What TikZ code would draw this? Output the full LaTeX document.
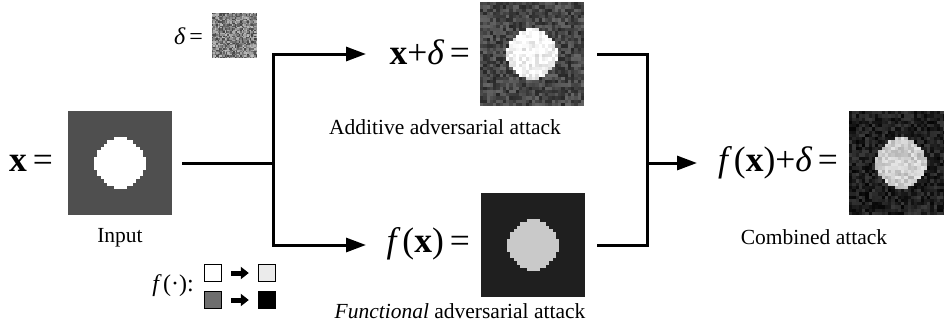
\documentclass[tikz,border=0pt]{standalone}
\usepackage{fontspec}
\setmainfont{Liberation Serif}
\usetikzlibrary{arrows.meta}
\tikzset{
  conn/.style={line width=3pt},
  arr/.style={conn,-{Triangle[length=20pt,width=14pt]}},
  lbl/.style={font=\fontsize{21.5}{24}\selectfont, inner sep=0pt},
  eq/.style={font=\fontsize{35.5}{40}\selectfont, inner sep=0pt},
  smalleq/.style={font=\fontsize{24}{28}\selectfont, inner sep=0pt},
  imgframe/.style={draw=none, minimum size=#1, inner sep=0pt},
  legbox/.style={draw, line width=1.4pt, minimum size=17pt, inner sep=0pt},
  legarr/.style={line width=5pt,-{Triangle[length=8pt,width=12pt]}},
}
% #1 left, #2 top, #3 size, #4 background gray, #5 disc gray, #6 noise amplitude, #7 disc radius^2 (in pixels)
\newcommand\pixelimg[7]{%
  \pgfmathsetmacro\pxs{#3/32}%
  \foreach \i in {0,...,31}{%
    \foreach \j in {0,...,31}{%
      \pgfmathsetmacro\dd{(\i-15.5)^2+(\j-15.5)^2}%
      \pgfmathsetmacro\gv{(\dd<#7 ? #5 : #4) + #6*(rnd-0.5)}%
      \pgfmathtruncatemacro\bk{100*(1-max(0,min(1,\gv)))}%
      \fill[black!\bk] ({#1+\i*\pxs},{#2+\j*\pxs}) rectangle ++({\pxs+0.3},{\pxs+0.3});
    }}}
\begin{document}
\begin{tikzpicture}[x=1pt,y=-1pt]
\useasboundingbox (0,0) rectangle (944,332);
\clip (0,0) rectangle (944,332);
\pgfmathsetseed{1234}

% images
\pixelimg{68}{111}{104}{0.30}{1.0}{0}{59}
\node[imgframe=104pt] (in) at (120,163) {};
\pixelimg{212}{13}{45}{0.5}{0.5}{0.5}{0}
\node[imgframe=45pt] (dl) at (234.5,35.5) {};
\pixelimg{480}{2}{104}{0.27}{0.95}{0.26}{59}
\node[imgframe=104pt] (A) at (532,54) {};
\pixelimg{481}{193}{104}{0.11}{0.79}{0}{59}
\node[imgframe=104pt] (F) at (533,245) {};
\pixelimg{849}{111}{104}{0.12}{0.80}{0.22}{59}
\node[imgframe=104pt] (C) at (901,163) {};

% texts
\node[eq, anchor=east] (xeq) at (53,163) {{\bfseries x}\,=};
\node[lbl] (inlbl) at (120,238) {Input};
\node[smalleq, anchor=east] (deq) at (203,36) {{\itshape δ}\,=};
\node[eq, anchor=east] (eqA) at (470,52) {{\bfseries x}+{\itshape δ}\,=};
\node[lbl] (lblA) at (445,127) {Additive adversarial attack};
\node[eq, anchor=east] (eqF) at (470,244) {{\itshape f}\,({\bfseries x})\,=};
\node[lbl] (lblF) at (460,311) {\textit{Functional} adversarial attack};
\node[eq, anchor=east] (eqC) at (838,163) {{\itshape f}\,({\bfseries x})+{\itshape δ}\,=};
\node[lbl] (lblC) at (814,237) {Combined attack};

% legend f(.)
\node[smalleq, anchor=east] (feq) at (194,286) {{\itshape f}\,(·):};
\node[legbox, fill=white] (w1) at (213,273) {};
\node[legbox, fill=black!57] (g1) at (213,300) {};
\node[legbox, fill=black!8] (w2) at (267,273) {};
\node[legbox, fill=black] (b2) at (267,300) {};
\draw[legarr] (w1.east) ++(9,0) coordinate (la1) -- ([xshift=-9pt]w2.west);
\draw[legarr] (g1.east) ++(9,0) coordinate (la2) -- ([xshift=-9pt]b2.west);

% connectors
\coordinate (J) at (273,163);
\coordinate (tA) at (366,54);
\coordinate (tF) at (366,245);
\coordinate (K) at (647,163);
\coordinate (tC) at (697,163);
\draw[conn] ([xshift=10pt]in.east) -- (J);
\draw[arr] (J) |- (tA);
\draw[arr] (J) |- (tF);
\draw[conn] ([xshift=13pt]A.east) -| (K) |- ([xshift=12pt]F.east);
\draw[arr] (K) -- (tC);
\end{tikzpicture}
\end{document}
